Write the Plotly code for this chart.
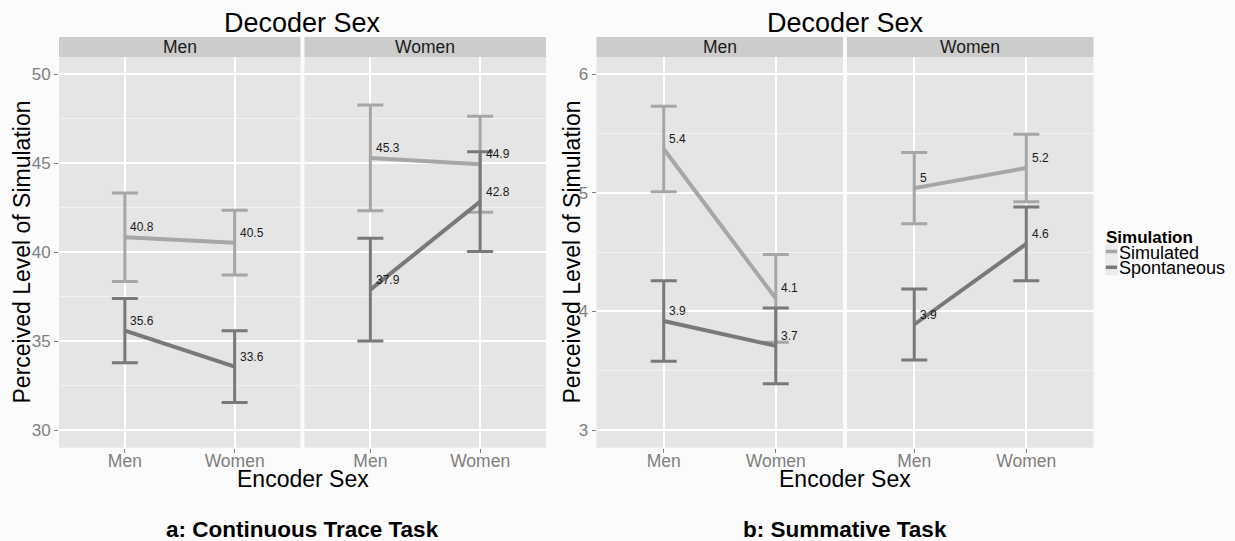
import plotly.graph_objects as go

W, H = 1235, 541

# ---------------- data ----------------
encoder = ["Men", "Women"]
decoder = ["Men", "Women"]
conditions = ["Simulated", "Spontaneous"]

# a: Continuous Trace Task  (means and CI half-widths, by encoder sex)
trace_sim_decmen = [40.84, 40.53]
trace_sim_decmen_err = [2.49, 1.82]
trace_spon_decmen = [35.59, 33.56]
trace_spon_decmen_err = [1.81, 2.02]
trace_sim_decwomen = [45.30, 44.94]
trace_sim_decwomen_err = [2.97, 2.70]
trace_spon_decwomen = [37.89, 42.84]
trace_spon_decwomen_err = [2.89, 2.81]

# b: Summative Task
summ_sim_decmen = [5.37, 4.11]
summ_sim_decmen_err = [0.36, 0.37]
summ_spon_decmen = [3.92, 3.71]
summ_spon_decmen_err = [0.34, 0.32]
summ_sim_decwomen = [5.04, 5.21]
summ_sim_decwomen_err = [0.30, 0.285]
summ_spon_decwomen = [3.89, 4.57]
summ_spon_decwomen_err = [0.30, 0.31]

trace_yticks = [30, 35, 40, 45, 50]
summ_yticks = [3, 4, 5, 6]

# ---------------- styling ----------------
FONT = "Liberation Sans, Arial, Helvetica, sans-serif"
COL = {"Simulated": "#a6a6a6", "Spontaneous": "#797979"}
PANEL_BG = "#e5e5e5"
PAGE_BG = "#fbfbfb"
TICK_COL = "#7f7f7f"


def px_x(x):
    return x / W


def px_y(y):
    return 1 - y / H


panel_top, panel_bot = 57, 447.7
ydom = [px_y(panel_bot), px_y(panel_top)]
xdoms = [(59, 300.5), (304.5, 546), (596.5, 843), (847, 1093.5)]

fig = go.Figure()

panels = [
    (1, trace_sim_decmen, trace_sim_decmen_err, trace_spon_decmen, trace_spon_decmen_err),
    (2, trace_sim_decwomen, trace_sim_decwomen_err, trace_spon_decwomen, trace_spon_decwomen_err),
    (3, summ_sim_decmen, summ_sim_decmen_err, summ_spon_decmen, summ_spon_decmen_err),
    (4, summ_sim_decwomen, summ_sim_decwomen_err, summ_spon_decwomen, summ_spon_decwomen_err),
]

annotations = []
shapes = []

for idx, sm, se, pm, pe in panels:
    xa = "x" if idx == 1 else f"x{idx}"
    ya = "y" if idx == 1 else f"y{idx}"
    for cond, means, errs in (("Simulated", sm, se), ("Spontaneous", pm, pe)):
        fig.add_trace(go.Scatter(
            x=encoder, y=means, mode="lines", xaxis=xa, yaxis=ya,
            name=cond, showlegend=False,
            line=dict(color=COL[cond], width=4),
            error_y=dict(type="data", array=errs, visible=True,
                         color=COL[cond], thickness=3, width=13),
        ))
        for e, v in zip(encoder, means):
            annotations.append(dict(
                x=e, y=v, xref=xa, yref=ya, text=f"{round(v, 1):g}",
                showarrow=False, xanchor="left", yanchor="bottom",
                xshift=3.5, yshift=1,
                font=dict(family=FONT, size=12, color="#1a1a1a"),
            ))

layout_axes = {}
for i, (x0, x1) in enumerate(xdoms, start=1):
    key = "xaxis" if i == 1 else f"xaxis{i}"
    layout_axes[key] = dict(
        domain=[px_x(x0), px_x(x1)], anchor="y" if i == 1 else f"y{i}",
        type="category", range=[-0.6, 1.6],
        showgrid=True, gridcolor="white", gridwidth=1.5,
        zeroline=False, showline=False,
        ticks="outside", ticklen=4, tickcolor=TICK_COL,
        ticklabelstandoff=-7,
        tickfont=dict(family=FONT, size=17.5, color=TICK_COL),
    )

for i in range(1, 5):
    key = "yaxis" if i == 1 else f"yaxis{i}"
    left_chart = i in (1, 2)
    rng = [29.005, 50.973] if left_chart else [2.851, 6.146]
    ticks = trace_yticks if left_chart else summ_yticks
    minor_dt = 2.5 if left_chart else 0.5
    show_labels = i in (1, 3)
    layout_axes[key] = dict(
        domain=ydom, anchor="x" if i == 1 else f"x{i}",
        range=rng, tickvals=ticks,
        showgrid=True, gridcolor="white", gridwidth=1.5,
        minor=dict(dtick=minor_dt, tick0=0, showgrid=True,
                   gridcolor="#f2f2f2", gridwidth=1, ticks=""),
        zeroline=False, showline=False,
        showticklabels=show_labels,
        ticks="outside" if show_labels else "",
        ticklen=4, tickcolor=TICK_COL,
        tickfont=dict(family=FONT, size=17, color=TICK_COL),
    )

# strips
for i, (x0, x1) in enumerate(xdoms):
    shapes.append(dict(type="rect", xref="paper", yref="paper",
                       x0=px_x(x0), x1=px_x(x1), y0=px_y(57), y1=px_y(37),
                       fillcolor="#cccccc", line=dict(width=0), layer="below"))
    annotations.append(dict(x=px_x((x0 + x1) / 2), y=px_y(47), xref="paper", yref="paper",
                            text=decoder[i % 2], showarrow=False,
                            xanchor="center", yanchor="middle",
                            font=dict(family=FONT, size=17.5, color="#1a1a1a")))

# titles
for cx, ylab_x, sub in ((302.5, 21.5, "a: Continuous Trace Task"),
                        (845, 571.5, "b: Summative Task")):
    annotations.append(dict(x=px_x(cx), y=px_y(23.5), xref="paper", yref="paper",
                            text="Decoder Sex", showarrow=False,
                            xanchor="center", yanchor="middle",
                            font=dict(family=FONT, size=27, color="black")))
    annotations.append(dict(x=px_x(cx), y=px_y(479), xref="paper", yref="paper",
                            text="Encoder Sex", showarrow=False,
                            xanchor="center", yanchor="middle",
                            font=dict(family=FONT, size=23, color="black")))
    annotations.append(dict(x=px_x(ylab_x), y=px_y(252), xref="paper", yref="paper",
                            text="Perceived Level of Simulation", showarrow=False,
                            textangle=-90, xanchor="center", yanchor="middle",
                            font=dict(family=FONT, size=23, color="black")))
    annotations.append(dict(x=px_x(cx), y=px_y(529), xref="paper", yref="paper",
                            text=f"<b>{sub}</b>", showarrow=False,
                            xanchor="center", yanchor="middle",
                            font=dict(family=FONT, size=22.5, color="black")))

# legend (manual, ggplot style)
annotations.append(dict(x=px_x(1104), y=px_y(237), xref="paper", yref="paper",
                        text="<b>Simulation</b>", showarrow=False,
                        xanchor="left", yanchor="middle",
                        font=dict(family=FONT, size=17, color="black")))
for k, cond in enumerate(conditions):
    yc = 251.5 + 15.8 * k
    shapes.append(dict(type="rect", xref="paper", yref="paper",
                       x0=px_x(1105), x1=px_x(1118), y0=px_y(yc + 7.9), y1=px_y(yc - 7.9),
                       fillcolor="#ececec", line=dict(width=0)))
    shapes.append(dict(type="line", xref="paper", yref="paper",
                       x0=px_x(1106), x1=px_x(1117), y0=px_y(yc), y1=px_y(yc),
                       line=dict(color=COL[cond], width=3.5)))
    annotations.append(dict(x=px_x(1117), y=px_y(yc + 1), xref="paper", yref="paper",
                            text=cond, showarrow=False,
                            xanchor="left", yanchor="middle",
                            font=dict(family=FONT, size=18, color="black")))

fig.update_layout(
    width=W, height=H,
    margin=dict(l=0, r=0, t=0, b=0),
    paper_bgcolor=PAGE_BG, plot_bgcolor=PANEL_BG,
    showlegend=False,
    annotations=annotations, shapes=shapes,
    **layout_axes,
)

fig.write_html(
    "out.html",
    config={"displayModeBar": False},
    post_script="document.body.style.margin='0';document.body.style.padding='0';"
                "document.body.style.overflow='hidden';",
)
